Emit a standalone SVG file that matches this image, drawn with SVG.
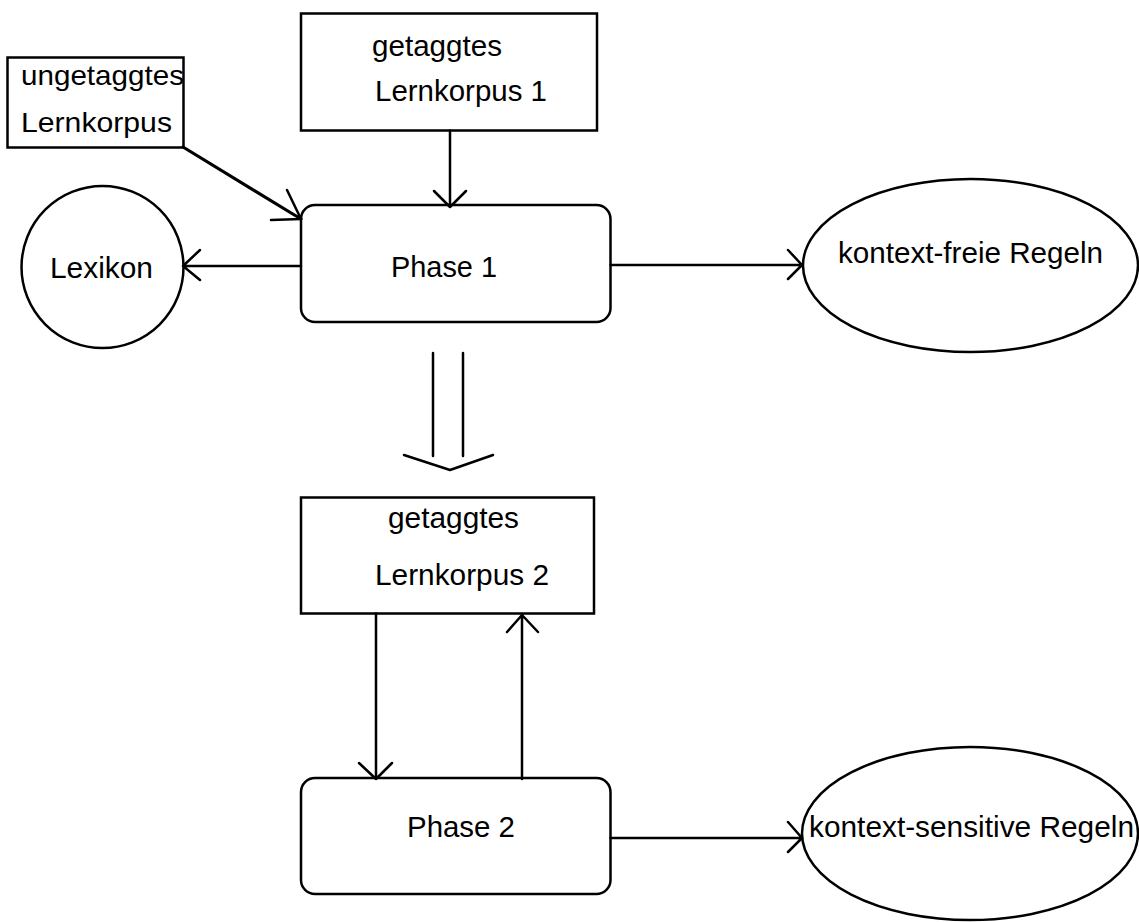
<svg xmlns="http://www.w3.org/2000/svg" width="1139" height="922" viewBox="0 0 1139 922">
<style>
.s{fill:#fff;stroke:#000;stroke-width:2.5}
.t{font-family:"Liberation Sans",Arial,sans-serif;font-size:29px;fill:#000}
.c{fill:none;stroke:#000;stroke-width:2.5;stroke-linecap:round;stroke-linejoin:round}
</style>
<rect width="1139" height="922" fill="#fff"/>
<g id="ungetaggtes">
<rect class="s" x="7.5" y="57.5" width="176" height="90"/>
<text class="t" x="21" y="85" style="font-size:28px" textLength="163" lengthAdjust="spacingAndGlyphs">ungetaggtes</text>
<text class="t" x="21" y="132" style="font-size:28px" textLength="151" lengthAdjust="spacingAndGlyphs">Lernkorpus</text>
</g>
<g id="getaggtes1">
<rect class="s" x="301" y="13.5" width="296" height="117"/>
<text class="t" x="372" y="56" textLength="130" lengthAdjust="spacingAndGlyphs">getaggtes</text>
<text class="t" x="375" y="101" textLength="172" lengthAdjust="spacingAndGlyphs">Lernkorpus 1</text>
</g>
<g id="phase1">
<rect class="s" x="301" y="205" width="309.5" height="117" rx="14"/>
<text class="t" x="391" y="277" textLength="106" lengthAdjust="spacingAndGlyphs">Phase 1</text>
</g>
<g id="lexikon">
<circle class="s" cx="102.5" cy="267" r="81"/>
<text class="t" x="50" y="278" textLength="103" lengthAdjust="spacingAndGlyphs">Lexikon</text>
</g>
<g id="kfregeln">
<ellipse class="s" cx="970.5" cy="265.5" rx="167.5" ry="86.5"/>
<text class="t" x="838" y="263" textLength="265" lengthAdjust="spacingAndGlyphs">kontext-freie Regeln</text>
</g>
<g id="getaggtes2">
<rect class="s" x="301" y="497.5" width="293" height="116"/>
<text class="t" x="388" y="528" textLength="131" lengthAdjust="spacingAndGlyphs">getaggtes</text>
<text class="t" x="375" y="585" textLength="174" lengthAdjust="spacingAndGlyphs">Lernkorpus 2</text>
</g>
<g id="phase2">
<rect class="s" x="301" y="778" width="309.5" height="116" rx="14"/>
<text class="t" x="407" y="837" textLength="108" lengthAdjust="spacingAndGlyphs">Phase 2</text>
</g>
<g id="ksregeln">
<ellipse class="s" cx="970" cy="833.5" rx="168" ry="86.5"/>
<text class="t" x="809" y="837" textLength="325" lengthAdjust="spacingAndGlyphs">kontext-sensitive Regeln</text>
</g>
<g id="connectors">
<path class="c" d="M183 147 L301 219" style="stroke-width:3.2"/>
<path class="c" d="M287 190 L301 219 L271 220"/>
<path class="c" d="M450 130.5 V207 M434 191 L450 207 L466 191"/>
<path class="c" d="M301 266 H183 M200 250 L183 266 L200 280"/>
<path class="c" d="M610.5 265 H802 M788 250 L802 265 L788 279"/>
<path class="c" d="M433 353 V456 M463 353 V456 M404 455 L450 470 L493 455"/>
<path class="c" d="M376 613.5 V779 M359 763 L376 779 L392 763"/>
<path class="c" d="M522 779 V615 M507 632 L522 615 L538 632"/>
<path class="c" d="M610.5 838 H802 M788 822 L802 838 L788 852"/>
</g>
</svg>
